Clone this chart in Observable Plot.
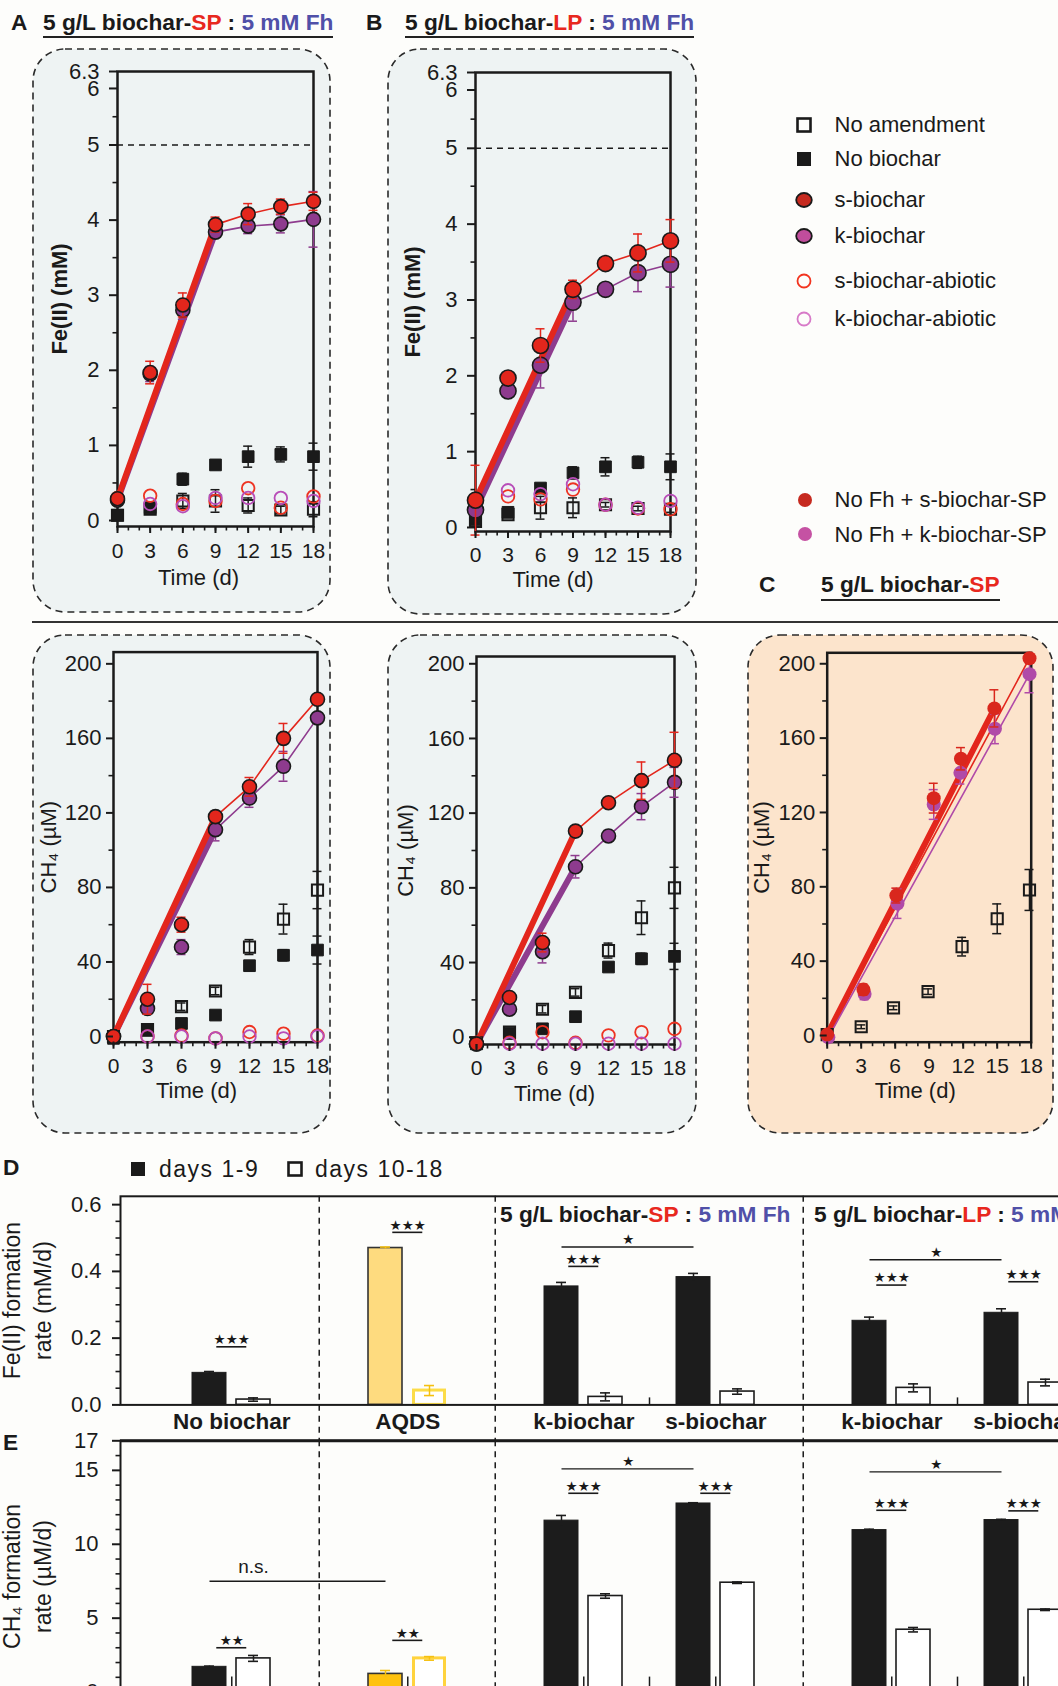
<!DOCTYPE html>
<html>
<head>
<meta charset="utf-8">
<script src="https://cdn.jsdelivr.net/npm/d3@7"></script>
<script src="https://cdn.jsdelivr.net/npm/@observablehq/plot@0.6"></script>
<style>
  html, body { margin: 0; padding: 0; background: #fdfdfb; }
  #page { position: relative; width: 1058px; height: 1686px; overflow: hidden; background: #fdfdfb;
          font-family: "Liberation Sans", Arial, Helvetica, sans-serif; color: #1a1a1a; }
  .abs { position: absolute; white-space: nowrap; line-height: 1; }
  .ttl { font-size: 22.7px; font-weight: bold; }
  .ul { display: inline-block; border-bottom: 2px solid #222; padding-bottom: 2.5px; }
  .sp { color: #e8281e; }
  .fh { color: #5050a8; }
  .leg { font-size: 22px; }
</style>
</head>
<body>
<div id="page"></div>
<script>
// ======================= DATA =======================
const days = [0, 3, 6, 9, 12, 15, 18];
const dayTicks = [0, 3, 6, 9, 12, 15, 18];
const dayMinorTicks = [0, 1, 2, 3, 4, 5, 6, 7, 8, 9, 10, 11, 12, 13, 14, 15, 16, 17, 18];
const feTicks = [0, 1, 2, 3, 4, 5, 6, 6.3];
const feMinorTicks = [0.5, 1.5, 2.5, 3.5, 4.5, 5.5];
const ch4Ticks = [0, 40, 80, 120, 160, 200];
const ch4MinorTicks = [20, 60, 100, 140, 180];
const fhLevel = [5];

// Panel A: Fe(II) (mM), 5 g/L biochar-SP : 5 mM Fh
const feSP_noAmend = [0.07, 0.15, 0.26, 0.26, 0.20, 0.14, 0.15];
const feSP_noAmendErr = [0.02, 0.04, 0.10, 0.15, 0.10, 0.05, 0.10];
const feSP_noBiochar = [0.07, 0.17, 0.55, 0.74, 0.85, 0.88, 0.85];
const feSP_noBiocharErr = [0.03, 0.04, 0.08, 0.06, 0.14, 0.10, 0.18];
const feSP_s = [0.29, 1.97, 2.87, 3.94, 4.08, 4.18, 4.25];
const feSP_sErr = [0.05, 0.15, 0.16, 0.10, 0.14, 0.10, 0.12];
const feSP_k = [0.27, 1.95, 2.80, 3.84, 3.92, 3.95, 4.01];
const feSP_kErr = [0.05, 0.10, 0.12, 0.05, 0.10, 0.12, 0.37];
const feSP_sAbiotic = [0.30, 0.33, 0.22, 0.26, 0.43, 0.17, 0.32];
const feSP_kAbiotic = [0.28, 0.22, 0.19, 0.30, 0.30, 0.30, 0.26];

// Panel B: Fe(II) (mM), 5 g/L biochar-LP : 5 mM Fh
const feLP_noAmend = [0.08, 0.17, 0.26, 0.26, 0.30, 0.25, 0.24];
const feLP_noAmendErr = [0.02, 0.04, 0.15, 0.13, 0.03, 0.03, 0.04];
const feLP_noBiochar = [0.10, 0.20, 0.52, 0.72, 0.80, 0.86, 0.80];
const feLP_noBiocharErr = [0.03, 0.05, 0.05, 0.08, 0.12, 0.08, 0.17];
const feLP_s = [0.36, 1.97, 2.40, 3.14, 3.48, 3.62, 3.78];
const feLP_sErr = [0.46, 0.05, 0.22, 0.12, 0.05, 0.25, 0.28];
const feLP_k = [0.23, 1.80, 2.14, 2.97, 3.14, 3.36, 3.47];
const feLP_kErr = [0.05, 0.05, 0.30, 0.25, 0.05, 0.25, 0.30];
const feLP_sAbiotic = [0.36, 0.41, 0.37, 0.50, 0.30, 0.25, 0.24];
const feLP_kAbiotic = [0.25, 0.49, 0.44, 0.57, 0.30, 0.26, 0.35];

// Panel A (lower): CH4 (uM), biochar-SP
const ch4SP_noAmend = [0, 3.7, 16, 24.4, 48, 63, 78.6];
const ch4SP_noAmendErr = [0.5, 1, 2, 2, 4, 8, 10];
const ch4SP_noBiochar = [-1, 3.3, 7, 11.5, 38, 43.6, 46.4];
const ch4SP_noBiocharErr = [0.5, 0.5, 1, 1, 1, 3, 7.5];
const ch4SP_s = [0, 20, 60, 118, 134, 160, 181];
const ch4SP_sErr = [0.5, 8, 4, 3, 5, 8, 2];
const ch4SP_k = [0, 15, 48, 111, 128, 145, 171];
const ch4SP_kErr = [0.5, 3, 4, 6, 5, 8, 2];
const ch4SP_sAbiotic = [0, 0, 0.5, -1, 2.4, 1.5, 0.5];
const ch4SP_kAbiotic = [0, 0, 0, -1, 0, -1, 0];

// Panel B (lower): CH4 (uM), biochar-LP
const ch4LP_noAmend = [-3, 2.7, 15, 24, 46.4, 64, 80];
const ch4LP_noAmendErr = [0.5, 1, 2, 2, 4, 9, 11];
const ch4LP_noBiochar = [-3.6, 2, 4.5, 11, 37.6, 42, 43.3];
const ch4LP_noBiocharErr = [0.5, 0.5, 1, 1, 1, 3, 7];
const ch4LP_s = [-3.6, 21.3, 50.7, 110.4, 125.6, 137.4, 148.3];
const ch4LP_sErr = [0.5, 2, 5, 2, 2, 10, 15];
const ch4LP_k = [-3.6, 15, 45.8, 91.3, 107.8, 123.5, 136.5];
const ch4LP_kErr = [0.5, 2, 6, 6, 3, 7, 8];
const ch4LP_sAbiotic = [-3, -3, 2.7, -3, 1, 2.7, 4.5];
const ch4LP_kAbiotic = [-3.5, -3.5, -3.5, -3.5, -3.5, -3.5, -3.5];

// Panel C: CH4 (uM), 5 g/L biochar-SP, no Fh
const cDays_s = [0, 3.2, 6.1, 9.4, 11.8, 14.75, 17.85];
const cDays_k = [0.1, 3.3, 6.2, 9.4, 11.75, 14.8, 17.85];
const cDays_noAmend = [0, 3.0, 5.85, 8.9, 11.9, 15.0, 17.85];
const ch4NoFh_s = [0.5, 24.7, 75.3, 127.7, 148.9, 176, 203];
const ch4NoFh_sErr = [0.5, 3, 4, 8, 6, 10, 1];
const ch4NoFh_k = [-1, 22.3, 71, 124.3, 141.3, 165, 194.4];
const ch4NoFh_kErr = [0.5, 3, 8, 8, 6, 8, 10];
const ch4NoFh_noAmend = [0.5, 4.7, 14.9, 23.6, 47.8, 62.8, 78.3];
const ch4NoFh_noAmendErr = [0.5, 1, 1, 1.5, 5, 8, 11];

// Panels D and E: rates
const barConditions = ["No biochar", "AQDS", "SP k-biochar", "SP s-biochar", "LP k-biochar", "LP s-biochar"];
const barLabels = ["No biochar", "AQDS", "k-biochar", "s-biochar", "k-biochar", "s-biochar"];
const periods = ["days 1-9", "days 10-18"];
const feRateEarly = [0.096, 0.470, 0.355, 0.383, 0.252, 0.276];
const feRateEarlyErr = [0.004, 0.003, 0.012, 0.011, 0.011, 0.012];
const feRateLate = [0.016, 0.043, 0.024, 0.040, 0.051, 0.067];
const feRateLateErr = [0.005, 0.015, 0.012, 0.008, 0.012, 0.010];
const ch4RateEarly = [1.71, 1.23, 11.60, 12.76, 10.96, 11.64];
const ch4RateEarlyErr = [0.05, 0.23, 0.35, 0.05, 0.06, 0.05];
const ch4RateLate = [2.28, 2.28, 6.50, 7.40, 4.22, 5.57];
const ch4RateLateErr = [0.20, 0.12, 0.15, 0.05, 0.15, 0.05];
const feRateTicks = [0, 0.2, 0.4, 0.6];
const feRateMinorTicks = [0.05, 0.1, 0.15, 0.25, 0.3, 0.35, 0.45, 0.5, 0.55];
const ch4RateTicks = [0, 5, 10, 15, 17];
const ch4RateMinorTicks = [1, 2, 3, 4, 6, 7, 8, 9, 11, 12, 13, 14, 16];
const feSig = [
  {from: "No biochar", to: "No biochar", level: 0.174, label: "★★★"},
  {from: "AQDS", to: "AQDS", level: 0.517, label: "★★★"},
  {from: "SP k-biochar", to: "SP k-biochar", level: 0.415, label: "★★★"},
  {from: "SP k-biochar", to: "SP s-biochar", level: 0.473, label: "★"},
  {from: "LP k-biochar", to: "LP k-biochar", level: 0.359, label: "★★★"},
  {from: "LP s-biochar", to: "LP s-biochar", level: 0.369, label: "★★★"},
  {from: "LP k-biochar", to: "LP s-biochar", level: 0.435, label: "★"}
];
const ch4Sig = [
  {from: "No biochar", to: "No biochar", level: 3.0, label: "★★"},
  {from: "AQDS", to: "AQDS", level: 3.5, label: "★★"},
  {from: "No biochar", to: "AQDS", level: 7.5, label: "n.s.", textAtLate: true},
  {from: "SP k-biochar", to: "SP k-biochar", level: 13.45, label: "★★★"},
  {from: "SP s-biochar", to: "SP s-biochar", level: 13.45, label: "★★★"},
  {from: "SP k-biochar", to: "SP s-biochar", level: 15.1, label: "★"},
  {from: "LP k-biochar", to: "LP k-biochar", level: 12.3, label: "★★★"},
  {from: "LP s-biochar", to: "LP s-biochar", level: 12.26, label: "★★★"},
  {from: "LP k-biochar", to: "LP s-biochar", level: 14.9, label: "★"}
];

// ======================= STYLE / HELPERS =======================
const FONT = '"Liberation Sans", Arial, Helvetica, sans-serif';
const INK = "#1a1a1a";
const RED = "#e3261c", PURPLE = "#8e3b8e";
const STYLE = {
  "No amendment":        {symbol: "square", r: 6.3, fill: "none", stroke: INK, sw: 2, err: INK},
  "No biochar":          {symbol: "square", r: 6.6, fill: INK, stroke: INK, sw: 1, err: INK},
  "s-biochar-abiotic":   {symbol: "circle", r: 6.3, fill: "none", stroke: "#ee3322", sw: 1.8},
  "k-biochar-abiotic":   {symbol: "circle", r: 6.3, fill: "none", stroke: "#b84db8", sw: 1.8},
  "k-biochar":           {symbol: "circle", r: 7, fill: PURPLE, stroke: INK, sw: 1.6, err: PURPLE},
  "s-biochar":           {symbol: "circle", r: 7, fill: RED, stroke: INK, sw: 1.6, err: RED},
  "No Fh + k-biochar-SP":{symbol: "circle", r: 7, fill: "#b04aa8", stroke: "none", sw: 0, err: "#b04aa8"},
  "No Fh + s-biochar-SP":{symbol: "circle", r: 7, fill: "#d9271d", stroke: "none", sw: 0, err: "#d9271d"}
};
const page = document.getElementById("page");
function place(node, left, top) {
  node.style.position = "absolute"; node.style.left = left + "px"; node.style.top = top + "px";
  page.appendChild(node); return node;
}
function html(str, left, top, cls, extra) {
  const d = document.createElement("div");
  d.className = "abs " + (cls || "");
  d.innerHTML = str;
  if (extra) Object.assign(d.style, extra);
  return place(d, left, top);
}
const NS = "http://www.w3.org/2000/svg";
function box(left, top, w, h, fill) {
  const s = document.createElementNS(NS, "svg");
  s.setAttribute("width", w); s.setAttribute("height", h);
  const r = document.createElementNS(NS, "rect");
  r.setAttribute("x", 1); r.setAttribute("y", 1);
  r.setAttribute("width", w - 2); r.setAttribute("height", h - 2);
  r.setAttribute("rx", 32); r.setAttribute("fill", fill);
  r.setAttribute("stroke", "#2a2a2a"); r.setAttribute("stroke-width", 1.6);
  r.setAttribute("stroke-dasharray", "7 5");
  s.appendChild(r); place(s, left, top);
}
function rows(name, xs, vals, errs) {
  return vals.map((v, i) => ({series: name, day: xs[i], value: v, err: errs ? errs[i] : 0}));
}
// The Fe(II) axes of A and B are compressed above 5 mM (as drawn in the source figure)
const compressAbove5 = f => v => (v <= 5 ? v : 5 + (v - 5) * f);
const expandAbove5 = f => v => (v <= 5 ? v : 5 + (v - 5) / f);
const plotStyle = {background: "transparent", maxWidth: "none", overflow: "visible", fontFamily: FONT, fontSize: "20px", color: INK};

function scatterPanel(cfg) {
  const marks = [];
  const tf = cfg.yTransform || (v => v);
  const inv = cfg.yInverse || (v => v);
  const rs = cfg.markerScale || 1;
  if (cfg.fhLine) marks.push(Plot.ruleY(fhLevel, {stroke: INK, strokeWidth: 1.5, strokeDasharray: "6,5"}));
  marks.push(Plot.frame({stroke: INK, strokeWidth: 2.5}));
  for (const ln of cfg.thick) marks.push(Plot.line(ln.rows, {x: "day", y: "value", stroke: ln.color, strokeWidth: 6}));
  for (const ln of cfg.thin) marks.push(Plot.line(ln.rows, {x: "day", y: "value", stroke: ln.color, strokeWidth: 1.6}));
  for (const s of cfg.series) {
    const st = STYLE[s[0].series];
    if (st.err) {
      const er = s.filter(d => d.err > 0);
      marks.push(Plot.ruleX(er, {x: "day", y1: d => d.value - d.err, y2: d => d.value + d.err, stroke: st.err, strokeWidth: 1.5}));
      marks.push(Plot.ruleY(er, {x1: "day", x2: "day", y: d => d.value + d.err, stroke: st.err, strokeWidth: 1.5, insetLeft: -4.5, insetRight: -4.5}));
      marks.push(Plot.ruleY(er, {x1: "day", x2: "day", y: d => d.value - d.err, stroke: st.err, strokeWidth: 1.5, insetLeft: -4.5, insetRight: -4.5}));
    }
    const r = st.symbol === "circle" && st.stroke === INK ? st.r * rs : st.r;
    marks.push(Plot.dot(s, {x: "day", y: "value", r, symbol: st.symbol, fill: st.fill, stroke: st.stroke, strokeWidth: st.sw}));
  }
  // axis marks receive tick positions in the scale's (compressed) space; labels show the original values
  marks.push(
    Plot.axisX({ticks: dayTicks, tickSize: 7, tickPadding: cfg.xPad, fontSize: 21, strokeWidth: 2, label: null}),
    Plot.axisX({ticks: dayMinorTicks, tickSize: 4.5, fill: "none", strokeWidth: 1.6, label: null}),
    Plot.axisY({ticks: cfg.yTicks.map(tf), tickSize: cfg.yTickSize, tickPadding: cfg.yPad, fontSize: 22, strokeWidth: 2, label: null,
      tickFormat: d => String(Math.round(inv(d) * 10) / 10)}),
    Plot.axisY({ticks: cfg.yMinor.map(tf), tickSize: 4.5, fill: "none", strokeWidth: 1.6, label: null}),
    Plot.text([cfg.yLabel], {text: d => d, frameAnchor: "left", textAnchor: "middle", dx: cfg.yLabelDx, rotate: -90, fontSize: 22, fontWeight: cfg.yBold ? "bold" : "normal"}),
    Plot.text(["Time (d)"], {text: d => d, frameAnchor: "bottom", textAnchor: "middle", dx: cfg.xLabelDx, dy: cfg.xLabelDy, fontSize: 22})
  );
  const y = {domain: cfg.yDomain};
  if (cfg.yTransform) y.transform = cfg.yTransform;
  const p = Plot.plot({
    width: cfg.width, height: cfg.height,
    marginLeft: cfg.mL, marginRight: cfg.mR, marginTop: cfg.mT, marginBottom: cfg.mB,
    x: {domain: [0, 18]},
    y,
    style: plotStyle,
    marks
  });
  place(p, cfg.left, cfg.top);
}

// ======================= TOP ROW: TITLES / BOXES =======================
html("A", 11, 10.8, "ttl");
html('<span class="ul">5 g/L biochar-<span class="sp">SP</span> : <span class="fh">5 mM Fh</span></span>', 43, 10.8, "ttl");
html("B", 366, 10.8, "ttl");
html('<span class="ul">5 g/L biochar-<span class="sp">LP</span> : <span class="fh">5 mM Fh</span></span>', 405, 10.8, "ttl");
html("C", 759, 573.3, "ttl");
html('<span class="ul">5 g/L biochar-<span class="sp">SP</span></span>', 821, 573.3, "ttl");

box(32, 48, 299, 565, "#eef3f3");
box(387, 48, 310, 567, "#eef3f3");
box(32, 634, 299, 500, "#eef3f3");
box(387, 634, 310, 500, "#eef3f3");
box(747, 634, 307, 500, "#fce4cc");

// separator line
html("", 32, 620.5, "", {width: "1026px", height: "2px", background: "#333"});

// ======================= LEGEND =======================
function marker(svgInner) { return `<svg width="22" height="22" style="display:block">${svgInner}</svg>`; }
const legendItems = [
  {y: 125, text: "No amendment", m: '<rect x="4.5" y="4.5" width="13" height="13" fill="none" stroke="#1a1a1a" stroke-width="2.6"/>'},
  {y: 159, text: "No biochar", m: '<rect x="4" y="4" width="14" height="14" fill="#1a1a1a"/>'},
  {y: 200, text: "s-biochar", m: '<ellipse cx="11" cy="11" rx="7.8" ry="7" fill="#c62a1f" stroke="#1a1a1a" stroke-width="1.8"/>'},
  {y: 235.5, text: "k-biochar", m: '<ellipse cx="11" cy="11" rx="7.8" ry="7" fill="#c04d9c" stroke="#1a1a1a" stroke-width="1.8"/>'},
  {y: 281, text: "s-biochar-abiotic", m: '<circle cx="11" cy="11" r="6.5" fill="none" stroke="#f2341f" stroke-width="1.8"/>'},
  {y: 319, text: "k-biochar-abiotic", m: '<circle cx="11" cy="11" r="6.5" fill="none" stroke="#d77ac8" stroke-width="1.8"/>'},
  {y: 500, text: "No Fh + s-biochar-SP", m: '<circle cx="12" cy="11" r="7" fill="#c62a1f"/>'},
  {y: 534.4, text: "No Fh + k-biochar-SP", m: '<circle cx="12" cy="11" r="7" fill="#c552a3"/>'}
];
for (const it of legendItems) {
  html(marker(it.m), 793, it.y - 11, "");
  html(it.text, 834.5, it.y - 10.7, "leg");
}

// ======================= SCATTER PANELS =======================
function panelSeries(noAmend, noAmendErr, noBiochar, noBiocharErr, sAb, kAb, k, kErr, s, sErr) {
  return {
    list: [
      rows("No amendment", days, noAmend, noAmendErr),
      rows("No biochar", days, noBiochar, noBiocharErr),
      rows("s-biochar-abiotic", days, sAb),
      rows("k-biochar-abiotic", days, kAb),
      rows("k-biochar", days, k, kErr),
      rows("s-biochar", days, s, sErr)
    ]
  };
}
function fitLines(ser) {
  const k = ser.list[4], s = ser.list[5];
  const early = r => r.filter(d => d.day === 0 || d.day === 9);
  const late = r => r.filter(d => d.day >= 9);
  return {
    thick: [{rows: early(k), color: PURPLE}, {rows: early(s), color: RED}],
    thin: [{rows: late(k), color: PURPLE}, {rows: late(s), color: RED}]
  };
}

const fA = 0.753, fB = 0.769;
const serA = panelSeries(feSP_noAmend, feSP_noAmendErr, feSP_noBiochar, feSP_noBiocharErr, feSP_sAbiotic, feSP_kAbiotic, feSP_k, feSP_kErr, feSP_s, feSP_sErr);
scatterPanel({left: 32, top: 48, width: 299, height: 565, mL: 85, mR: 18, mT: 23, mB: 87,
  yDomain: [-0.08, 5 + 1.3 * fA], yTransform: compressAbove5(fA), yInverse: expandAbove5(fA), yTicks: feTicks, yMinor: feMinorTicks,
  yTickSize: 8, yPad: 10, xPad: 10, yLabel: "Fe(II) (mM)", yBold: true, yLabelDx: -58, xLabelDx: -17, xLabelDy: 58,
  fhLine: true, series: serA.list, ...fitLines(serA)});

const serB = panelSeries(feLP_noAmend, feLP_noAmendErr, feLP_noBiochar, feLP_noBiocharErr, feLP_sAbiotic, feLP_kAbiotic, feLP_k, feLP_kErr, feLP_s, feLP_sErr);
scatterPanel({left: 387, top: 48, width: 310, height: 567, mL: 88, mR: 27, mT: 24, mB: 84,
  yDomain: [-0.053, 5 + 1.3 * fB], yTransform: compressAbove5(fB), yInverse: expandAbove5(fB), yTicks: feTicks, yMinor: feMinorTicks,
  yTickSize: 8, yPad: 10, xPad: 9, yLabel: "Fe(II) (mM)", yBold: true, yLabelDx: -63, xLabelDx: -20, xLabelDy: 55,
  fhLine: true, markerScale: 1.15, series: serB.list, ...fitLines(serB)});

const serA2 = panelSeries(ch4SP_noAmend, ch4SP_noAmendErr, ch4SP_noBiochar, ch4SP_noBiocharErr, ch4SP_sAbiotic, ch4SP_kAbiotic, ch4SP_k, ch4SP_kErr, ch4SP_s, ch4SP_sErr);
scatterPanel({left: 32, top: 634, width: 299, height: 500, mL: 81, mR: 14, mT: 17.6, mB: 92.3,
  yDomain: [-3.06, 206.3], yTicks: ch4Ticks, yMinor: ch4MinorTicks,
  yTickSize: 7, yPad: 5, xPad: 9, yLabel: "CH₄ (µM)", yBold: false, yLabelDx: -65, xLabelDx: -19, xLabelDy: 56,
  fhLine: false, series: serA2.list, ...fitLines(serA2)});

const serB2 = panelSeries(ch4LP_noAmend, ch4LP_noAmendErr, ch4LP_noBiochar, ch4LP_noBiocharErr, ch4LP_sAbiotic, ch4LP_kAbiotic, ch4LP_k, ch4LP_kErr, ch4LP_s, ch4LP_sErr);
scatterPanel({left: 387, top: 634, width: 310, height: 500, mL: 89, mR: 23, mT: 22, mB: 90,
  yDomain: [-3.9, 203.9], yTicks: ch4Ticks, yMinor: ch4MinorTicks,
  yTickSize: 7, yPad: 5, xPad: 9, yLabel: "CH₄ (µM)", yBold: false, yLabelDx: -71, xLabelDx: -21, xLabelDy: 56,
  fhLine: false, series: serB2.list, ...fitLines(serB2)});

const cNoAmend = rows("No amendment", cDays_noAmend, ch4NoFh_noAmend, ch4NoFh_noAmendErr);
const cK = rows("No Fh + k-biochar-SP", cDays_k, ch4NoFh_k, ch4NoFh_kErr);
const cS = rows("No Fh + s-biochar-SP", cDays_s, ch4NoFh_s, ch4NoFh_sErr);
scatterPanel({left: 747, top: 634, width: 307, height: 500, mL: 79.7, mR: 23.3, mT: 18.3, mB: 92.3,
  yDomain: [-3.6, 205.9], yTicks: ch4Ticks, yMinor: ch4MinorTicks,
  yTickSize: 7, yPad: 5, xPad: 9, yLabel: "CH₄ (µM)", yBold: false, yLabelDx: -65, xLabelDx: -14, xLabelDy: 56,
  fhLine: false, series: [cNoAmend, cK, cS],
  thick: [{rows: [cS[0], cS[5]], color: "#e3261c"}],
  thin: [{rows: [cK[0], cK[6]], color: "#b04aa8"}, {rows: [cS[0], cS[6]], color: "#e3261c"}]});

// ======================= PANELS D & E =======================
html("D", 3, 1156, "ttl");
html("E", 3, 1430.5, "ttl");
html(marker('<rect x="4" y="4" width="14" height="14" fill="#1a1a1a"/>'), 126.6, 1158, "");
html("days 1-9", 159, 1158, "", {fontSize: "23px", letterSpacing: "1.5px"});
html(marker('<rect x="4.5" y="4.5" width="13" height="13" fill="none" stroke="#1a1a1a" stroke-width="2.6"/>'), 283.5, 1158, "");
html("days 10-18", 315, 1158, "", {fontSize: "23px", letterSpacing: "1.5px"});
html('5 g/L biochar-<span class="sp">SP</span> : <span class="fh">5 mM Fh</span>', 500, 1203, "ttl");
html('5 g/L biochar-<span class="sp">LP</span> : <span class="fh">5 mM Fh</span>', 814, 1203, "ttl");

// band layout of bars: spacer slots separate condition groups
const gapsBefore = [0, 2, 2, 1, 2, 1];
const slotDomain = [];
barConditions.forEach((c, i) => {
  for (let g = 0; g < gapsBefore[i]; g++) slotDomain.push(`gap${i}-${g}`);
  periods.forEach(p => slotDomain.push(`${c}|${p}`));
});
const BAR_W = 1134, BAR_ML = 120, PAD_IN = 0.236, PAD_OUT = 1.5;
const step = (BAR_W - BAR_ML) / (slotDomain.length - PAD_IN + 2 * PAD_OUT);
const bw = step * (1 - PAD_IN);
const key = (c, pi) => `${c}|${periods[pi]}`;
const dividerKeys = ["gap1-1", "gap2-1", "gap4-1"];
const innerGapKeys = ["gap3-0", "gap5-0"];

function barRows(early, earlyErr, late, lateErr) {
  return barConditions.flatMap((c, i) => [
    {cond: c, period: 0, key: key(c, 0), value: early[i], err: earlyErr[i]},
    {cond: c, period: 1, key: key(c, 1), value: late[i], err: lateErr[i]}
  ]);
}

function barPanel(cfg) {
  const data = cfg.rows;
  const isAQ = d => d.cond === "AQDS";
  const marks = [
    Plot.ruleX(dividerKeys, {x: d => d, dx: -step / 2, stroke: INK, strokeWidth: 1.5, strokeDasharray: "6,5", insetBottom: -cfg.mB}),
    Plot.barY(data.filter(d => d.period === 0 && !isAQ(d)), {x: "key", y: "value", fill: "#1c1c1c", stroke: "#1c1c1c", strokeWidth: 1}),
    Plot.barY(data.filter(d => d.period === 1 && !isAQ(d)), {x: "key", y: "value", fill: "#ffffff", stroke: "#1c1c1c", strokeWidth: 1.6}),
    Plot.barY(data.filter(d => d.period === 0 && isAQ(d)), {x: "key", y: "value", fill: cfg.aqFill, stroke: "#333", strokeWidth: 1.6}),
    Plot.barY(data.filter(d => d.period === 1 && isAQ(d)), {x: "key", y: "value", fill: "#ffffff", stroke: cfg.aqStroke, strokeWidth: 3, insetLeft: 1.5, insetRight: 1.5}),
    Plot.ruleX(data, {x: "key", y1: d => d.value - d.err, y2: d => d.value + d.err, stroke: d => isAQ(d) ? "#f5c010" : "#1c1c1c", strokeWidth: 1.5}),
    Plot.tickY(data, {x: "key", y: d => d.value + d.err, stroke: d => isAQ(d) ? "#f5c010" : "#1c1c1c", strokeWidth: 1.6, insetLeft: bw / 2 - 5, insetRight: bw / 2 - 5}),
    Plot.tickY(data.filter(d => d.period === 1), {x: "key", y: d => d.value - d.err, stroke: d => isAQ(d) ? "#f5c010" : "#1c1c1c", strokeWidth: 1.6, insetLeft: bw / 2 - 5, insetRight: bw / 2 - 5}),
    Plot.frame({stroke: INK, strokeWidth: 2}),
    Plot.ruleX(innerGapKeys, {x: d => d, y1: () => 0, y2: () => 0, insetTop: -cfg.tickLen, stroke: INK, strokeWidth: 1.5}),
    Plot.axisY({ticks: cfg.yTicks, tickSize: 8, tickPadding: cfg.yPad, fontSize: 22, strokeWidth: 2, label: null, tickFormat: cfg.yFmt}),
    Plot.axisY({ticks: cfg.yMinor, tickSize: 4.5, fill: "none", strokeWidth: 1.6, label: null}),
    Plot.text([cfg.yLabel], {text: d => d, frameAnchor: "left", textAnchor: "middle", dx: 25 - BAR_ML, dy: cfg.yLabelDy, rotate: -90, fontSize: 23, lineHeight: 1.35})
  ];
  // significance annotations
  const pairs = cfg.sig.filter(s => s.from === s.to);
  marks.push(
    Plot.tickY(pairs, {x: s => key(s.from, 0), y: "level", dx: step / 2, insetLeft: 2, insetRight: 2, stroke: INK, strokeWidth: 1.6}),
    Plot.text(pairs, {x: s => key(s.from, 0), y: "level", text: "label", dx: step / 2, dy: -7, fontSize: 13.5, fontFamily: "DejaVu Sans", fill: INK})
  );
  for (const s of cfg.sig.filter(s => s.from !== s.to)) {
    const span = slotDomain.indexOf(key(s.to, 0)) - slotDomain.indexOf(key(s.from, 0));
    marks.push(Plot.link([s], {x1: d => key(d.from, 0), x2: d => key(d.to, 0), y1: "level", y2: "level", stroke: INK, strokeWidth: 1.4}));
    if (s.textAtLate) {
      marks.push(Plot.text([s], {x: d => key(d.from, 1), y: "level", text: "label", dy: -14, fontSize: 19, fill: INK}));
    } else {
      marks.push(Plot.text([s], {x: d => key(d.from, 0), y: "level", text: "label", dx: span * step / 2, dy: -7, fontSize: 13.5, fontFamily: "DejaVu Sans", fill: INK}));
    }
  }
  if (cfg.topRule) marks.push(Plot.ruleY([cfg.yDomain[1]], {stroke: INK, strokeWidth: 3}));
  if (cfg.groupLabels) {
    marks.push(Plot.text(barConditions.map((c, i) => ({c, label: barLabels[i]})),
      {x: d => key(d.c, 0), text: "label", dx: step / 2, frameAnchor: "bottom", dy: 24, fontSize: 22.5, fontWeight: "bold", fill: INK}));
  }
  if (cfg.pairTicks) {
    marks.push(Plot.ruleX(barConditions.map(c => key(c, 0)), {x: d => d, dx: step / 2, y1: () => 0, y2: () => 0, insetTop: -cfg.tickLen, stroke: INK, strokeWidth: 1.5}));
  }
  const p = Plot.plot({
    width: BAR_W, height: cfg.height,
    marginLeft: BAR_ML, marginRight: 0, marginTop: cfg.mT, marginBottom: cfg.mB,
    x: {type: "band", domain: slotDomain, paddingInner: PAD_IN, paddingOuter: PAD_OUT, align: 0.5, axis: null},
    y: {domain: cfg.yDomain},
    style: plotStyle,
    marks
  });
  place(p, 0, cfg.top);
}

barPanel({top: 1180, height: 262, mT: 15.8, mB: 37.6, yDomain: [0, 0.625],
  rows: barRows(feRateEarly, feRateEarlyErr, feRateLate, feRateLateErr),
  yTicks: feRateTicks, yMinor: feRateMinorTicks, yFmt: d3.format(".1f"), yPad: 11,
  yLabel: "Fe(II) formation\nrate (mM/d)", yLabelDy: 0, sig: feSig,
  aqFill: "#fedb7f", aqStroke: "#fcdc48", groupLabels: true, tickLen: 7});

barPanel({top: 1420, height: 300, mT: 20.3, mB: 28.4, yDomain: [0, 17],
  rows: barRows(ch4RateEarly, ch4RateEarlyErr, ch4RateLate, ch4RateLateErr),
  yTicks: ch4RateTicks, yMinor: ch4RateMinorTicks, yFmt: d => String(d), yPad: 14,
  yLabel: "CH₄ formation\nrate (µM/d)", yLabelDy: 10, sig: ch4Sig,
  aqFill: "#ffc20f", aqStroke: "#ffd33d", topRule: true, pairTicks: true, tickLen: 15});
</script>
</body>
</html>
